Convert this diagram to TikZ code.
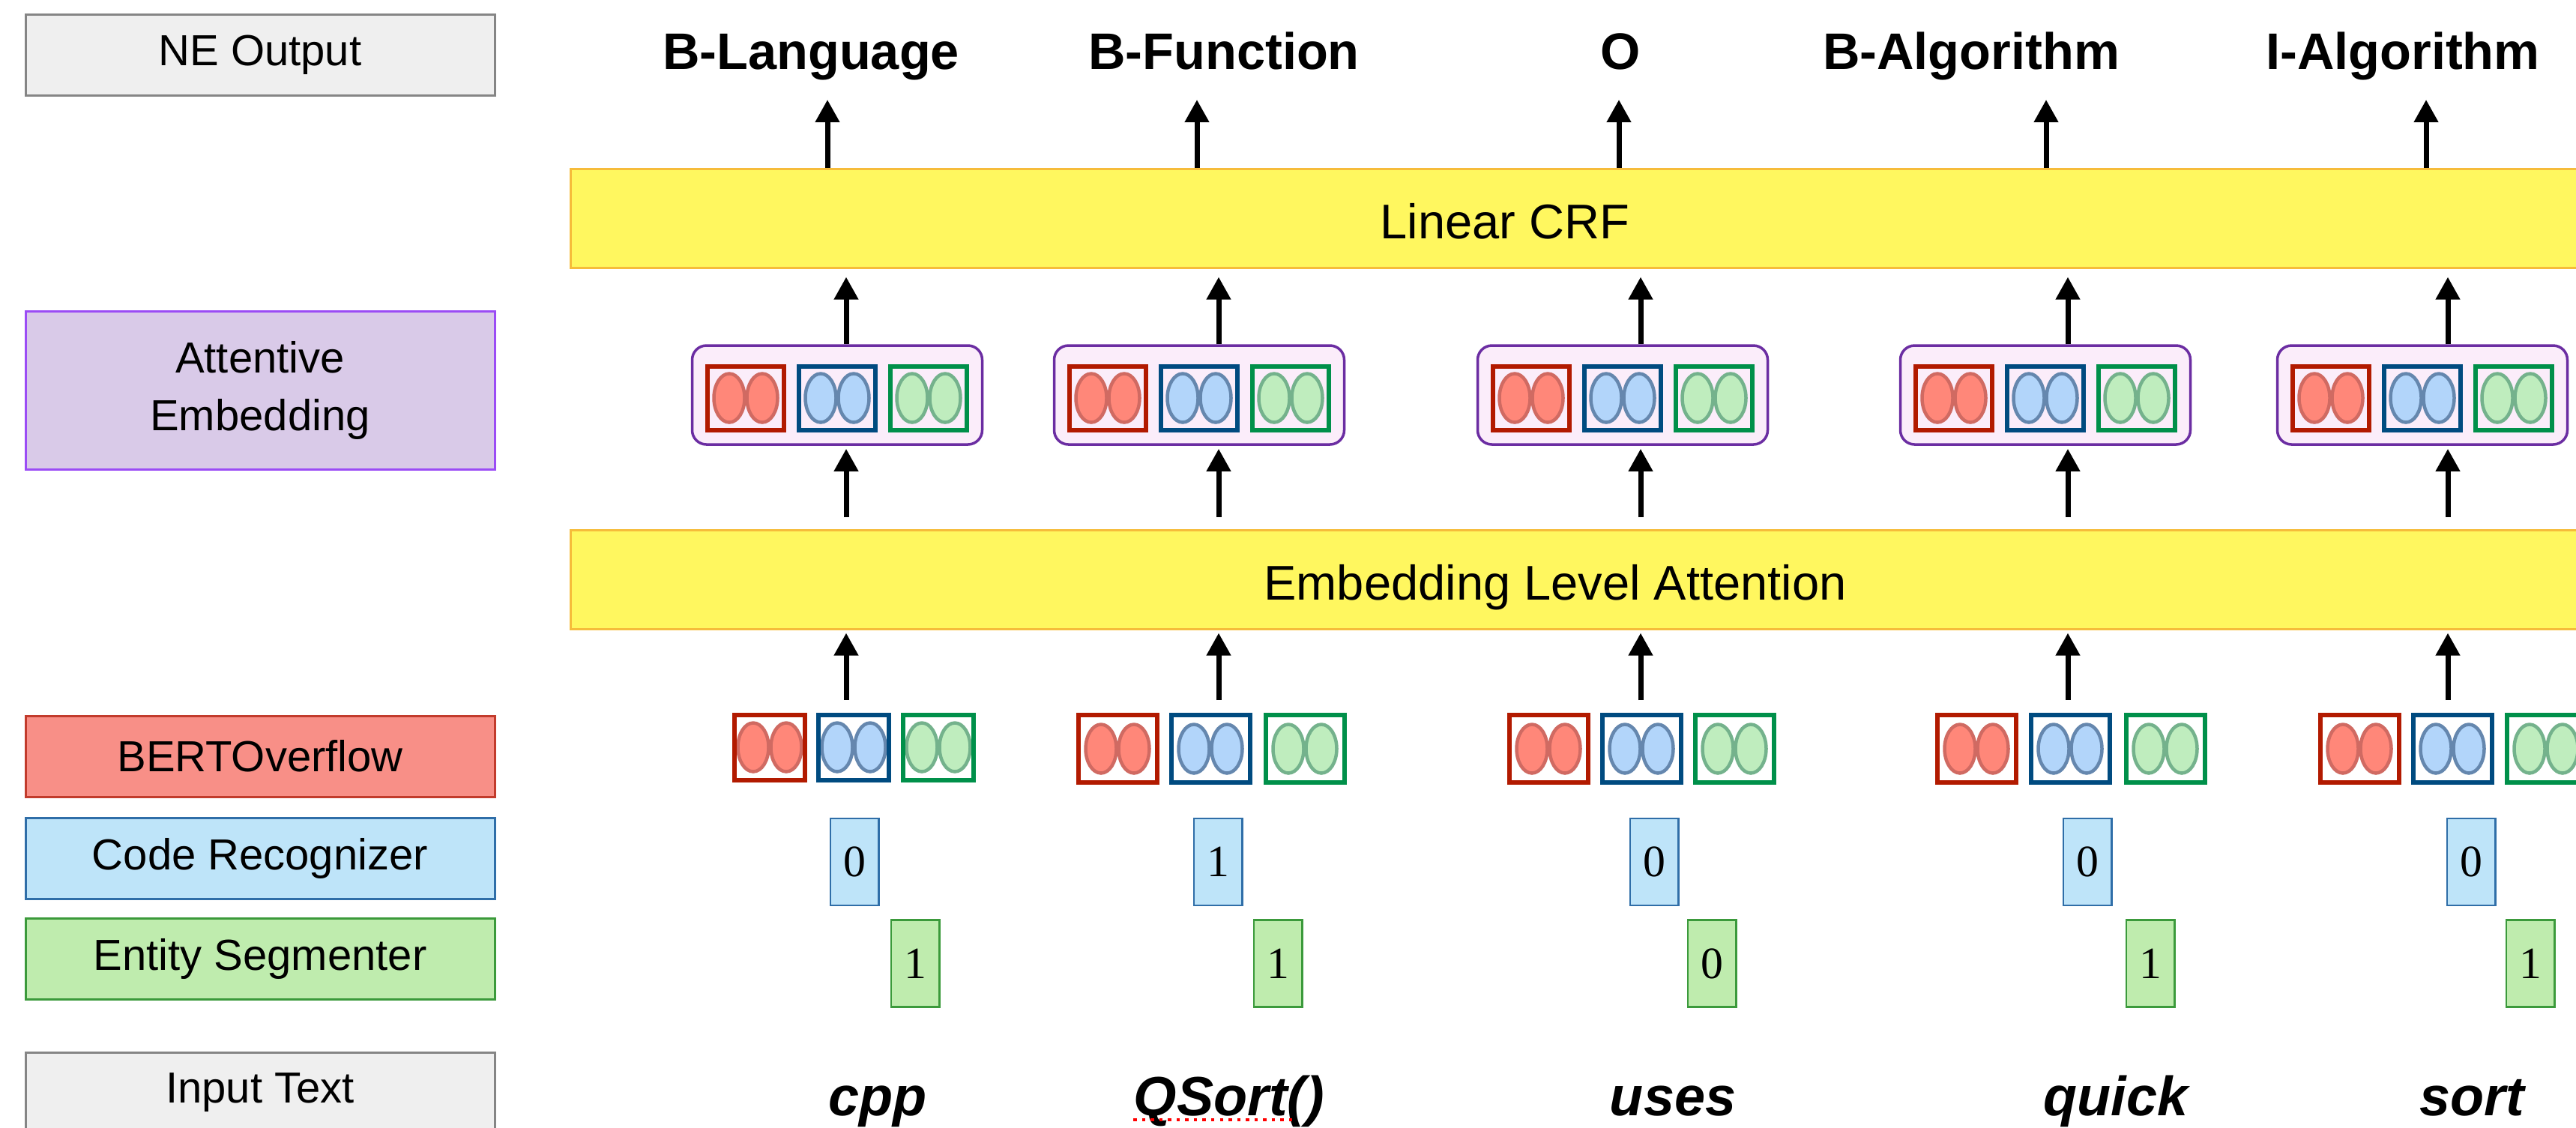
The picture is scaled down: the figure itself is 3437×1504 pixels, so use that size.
\documentclass[tikz,border=0pt]{standalone}
\usepackage{fontspec}
\setmainfont{Liberation Sans}
\newfontfamily\digitfont{Liberation Serif}
\usetikzlibrary{positioning,
        arrows.meta}
\usepackage{xcolor}

\definecolor{grayfill}{HTML}{EFEFEF}
\definecolor{grayline}{HTML}{858585}
\definecolor{attfill}{HTML}{D9CAE8}
\definecolor{attline}{HTML}{9B4CF5}
\definecolor{bertfill}{HTML}{F88F87}
\definecolor{bertline}{HTML}{C23B2C}
\definecolor{codefill}{HTML}{BEE4F9}
\definecolor{codeline}{HTML}{2F6EA8}
\definecolor{segfill}{HTML}{BFECAE}
\definecolor{segline}{HTML}{3B9A3B}
\definecolor{barfill}{HTML}{FFF75F}
\definecolor{barline}{HTML}{F6BC3A}
\definecolor{boxfill}{HTML}{FBEDFA}
\definecolor{boxline}{HTML}{6B2DA2}
\definecolor{cellred}{HTML}{B21A00}
\definecolor{cellblue}{HTML}{004B80}
\definecolor{cellgreen}{HTML}{00904A}
\definecolor{eggred}{HTML}{FF8779}
\definecolor{eggredline}{HTML}{D06A62}
\definecolor{eggblue}{HTML}{B2D5FA}
\definecolor{eggblueline}{HTML}{6587AE}
\definecolor{egggreen}{HTML}{BFEDBE}
\definecolor{egggreenline}{HTML}{74B28C}

\tikzset{
    sidelabel/.style={draw=#1, line width=0.3mm, minimum width=62.6mm, minimum height=10.8mm,
        font=\fontsize{16.5}{22}\selectfont},
    bar/.style={draw=barline, fill=barfill, line width=0.25mm, minimum width=280mm, minimum height=13.2mm},
    bartext/.style={anchor=base, inner sep=0pt, font=\fontsize{18.5}{18.5}\selectfont},
    tag/.style={anchor=base, inner sep=0pt, font=\bfseries\fontsize{19.5}{19.5}\selectfont},
    word/.style={anchor=base, inner sep=0pt, font=\bfseries\itshape\fontsize{21}{21}\selectfont},
    attbox/.style={draw=boxline, fill=boxfill, line width=0.35mm, rounded corners=1.9mm,
        minimum width=38.7mm, minimum height=13.2mm},
    cell/.style n args={3}{draw=#1, line width=0.6mm, minimum width=10.2mm, minimum height=8.5mm, inner sep=0pt,
        path picture={
            \draw[draw=#3, fill=#2, line width=0.45mm] ([xshift=-2.2mm]path picture bounding box.center) ellipse (2.05mm and 3.25mm);
            \draw[draw=#3, fill=#2, line width=0.45mm] ([xshift=2.2mm]path picture bounding box.center) ellipse (2.05mm and 3.25mm);}},
    redcell/.style={cell={cellred}{eggred}{eggredline}},
    bluecell/.style={cell={cellblue}{eggblue}{eggblueline}},
    greencell/.style={cell={cellgreen}{egggreen}{egggreenline}},
    bigcell/.style={minimum width=10.5mm, minimum height=9mm},
    smallcell/.style={minimum width=9.4mm, minimum height=8.7mm},
    codebit/.style={draw=codeline, fill=codefill, line width=0.25mm, minimum width=6.45mm, minimum height=11.6mm,
        inner sep=0pt, font=\digitfont\fontsize{17}{17}\selectfont},
    segbit/.style={codebit, draw=segline, fill=segfill},
    arr/.style={-{Triangle[length=3mm,width=3.1mm]}, line width=0.7mm}
}

\begin{document}
\begin{tikzpicture}[x=0.1mm, y=-0.1mm]
    \path[use as bounding box, clip] (0,0) rectangle (3437,1504);

    % row names on the left
    \node [sidelabel=grayline, fill=grayfill] (neout) at (347,73) {NE Output};
    \node [sidelabel=attline, fill=attfill, minimum height=21.1mm, align=center] (attemb) at (347,521) {Attentive\\Embedding};
    \node [sidelabel=bertline, fill=bertfill] (bert) at (347,1009) {BERTOverflow};
    \node [sidelabel=codeline, fill=codefill] (coderec) at (347,1145) {Code Recognizer};
    \node [sidelabel=segline, fill=segfill] (entseg) at (347,1279) {Entity Segmenter};
    \node [sidelabel=grayline, fill=grayfill] (intext) at (347,1458) {Input Text};

    % yellow layers
    \node [bar, anchor=north west] (crf) at (760,224) {};
    \node [bartext] (crflabel) at (2008,318) {Linear CRF};
    \node [bar, anchor=north west] (ela) at (760,706) {};
    \node [bartext] (elalabel) at (2075,800) {Embedding Level Attention};

    % output tags
    \node [tag] (t1) at (1082,92) {B-Language};
    \node [tag] (t2) at (1633,92) {B-Function};
    \node [tag] (t3) at (2162,92) {O};
    \node [tag] (t4) at (2630,92) {B-Algorithm};
    \node [tag] (t5) at (3206,92) {I-Algorithm};

    % attentive embeddings
    \node [attbox] (att1) at (1117,527) {};
    \node [bluecell] (a1b) at ([yshift=-0.4mm]att1.center) {};
    \node [redcell, left=1.4mm of a1b] (a1r) {};
    \node [greencell, right=1.4mm of a1b] (a1g) {};

    \node [attbox] (att2) at (1600,527) {};
    \node [bluecell] (a2b) at ([yshift=-0.4mm]att2.center) {};
    \node [redcell, left=1.4mm of a2b] (a2r) {};
    \node [greencell, right=1.4mm of a2b] (a2g) {};

    \node [attbox] (att3) at (2165,527) {};
    \node [bluecell] (a3b) at ([yshift=-0.4mm]att3.center) {};
    \node [redcell, left=1.4mm of a3b] (a3r) {};
    \node [greencell, right=1.4mm of a3b] (a3g) {};

    \node [attbox] (att4) at (2729,527) {};
    \node [bluecell] (a4b) at ([yshift=-0.4mm]att4.center) {};
    \node [redcell, left=1.4mm of a4b] (a4r) {};
    \node [greencell, right=1.4mm of a4b] (a4g) {};

    \node [attbox] (att5) at (3232,527) {};
    \node [bluecell] (a5b) at ([yshift=-0.4mm]att5.center) {};
    \node [redcell, left=1.4mm of a5b] (a5r) {};
    \node [greencell, right=1.4mm of a5b] (a5g) {};

    % token embeddings
    \node [bluecell, smallcell] (e1b) at (1139,997) {};
    \node [redcell, smallcell, left=1.2mm of e1b] (e1r) {};
    \node [greencell, smallcell, right=1.3mm of e1b] (e1g) {};

    \node [bluecell, bigcell] (e2b) at (1615,999) {};
    \node [redcell, bigcell, left=1.3mm of e2b] (e2r) {};
    \node [greencell, bigcell, right=1.5mm of e2b] (e2g) {};

    \node [bluecell, bigcell] (e3b) at (2190,999) {};
    \node [redcell, bigcell, left=1.3mm of e3b] (e3r) {};
    \node [greencell, bigcell, right=1.3mm of e3b] (e3g) {};

    \node [bluecell, bigcell] (e4b) at (2762,999) {};
    \node [redcell, bigcell, left=1.4mm of e4b] (e4r) {};
    \node [greencell, bigcell, right=1.6mm of e4b] (e4g) {};

    \node [bluecell, bigcell] (e5b) at (3272,999) {};
    \node [redcell, bigcell, left=1.3mm of e5b] (e5r) {};
    \node [greencell, bigcell, right=1.4mm of e5b] (e5g) {};

    % code and segment bits
    \node [codebit] (c1) at (1140,1150) {0};
    \node [segbit, below right=1.7mm and 1.4mm of c1] (s1) {1};
    \node [codebit] (c2) at (1625,1150) {1};
    \node [segbit, below right=1.7mm and 1.3mm of c2] (s2) {1};
    \node [codebit] (c3) at (2207,1150) {0};
    \node [segbit, below right=1.7mm and 1.0mm of c3] (s3) {0};
    \node [codebit] (c4) at (2785,1150) {0};
    \node [segbit, below right=1.7mm and 1.7mm of c4] (s4) {1};
    \node [codebit] (c5) at (3297,1150) {0};
    \node [segbit, below right=1.7mm and 1.2mm of c5] (s5) {1};

    % input words
    \node [word] (w1) at (1171,1488) {cpp};
    \node [word] (w2) at (1640,1488) {QSort()};
    \node [word] (w3) at (2232,1488) {uses};
    \node [word] (w4) at (2823,1488) {quick};
    \node [word] (w5) at (3298,1488) {sort};
    \draw [red, dotted, line width=0.45mm] ([yshift=-0.6mm]w2.base west) -- ++(21.3mm,0);

    % arrow columns
    \coordinate (p1) at (1129,0);
    \coordinate (p2) at (1626,0);
    \coordinate (p3) at (2189,0);
    \coordinate (p4) at (2759,0);
    \coordinate (p5) at (3266,0);
    \coordinate (q1) at (1104,133);
    \coordinate (q2) at (1597,133);
    \coordinate (q3) at (2160,133);
    \coordinate (q4) at (2730,133);
    \coordinate (q5) at (3237,133);

    \draw [arr, shorten <=1.7mm, shorten >=0.4mm] (e1b.north -| p1) -- (ela.south -| p1);
    \draw [arr, shorten <=1.7mm, shorten >=0.4mm] (e2b.north -| p2) -- (ela.south -| p2);
    \draw [arr, shorten <=1.7mm, shorten >=0.4mm] (e3b.north -| p3) -- (ela.south -| p3);
    \draw [arr, shorten <=1.7mm, shorten >=0.4mm] (e4b.north -| p4) -- (ela.south -| p4);
    \draw [arr, shorten <=1.7mm, shorten >=0.4mm] (e5b.north -| p5) -- (ela.south -| p5);

    \draw [arr, shorten <=1.6mm, shorten >=0.4mm] (ela.north -| p1) -- (att1.south -| p1);
    \draw [arr, shorten <=1.6mm, shorten >=0.4mm] (ela.north -| p2) -- (att2.south -| p2);
    \draw [arr, shorten <=1.6mm, shorten >=0.4mm] (ela.north -| p3) -- (att3.south -| p3);
    \draw [arr, shorten <=1.6mm, shorten >=0.4mm] (ela.north -| p4) -- (att4.south -| p4);
    \draw [arr, shorten <=1.6mm, shorten >=0.4mm] (ela.north -| p5) -- (att5.south -| p5);

    \draw [arr, shorten >=1.1mm] (att1.north -| p1) -- (crf.south -| p1);
    \draw [arr, shorten >=1.1mm] (att2.north -| p2) -- (crf.south -| p2);
    \draw [arr, shorten >=1.1mm] (att3.north -| p3) -- (crf.south -| p3);
    \draw [arr, shorten >=1.1mm] (att4.north -| p4) -- (crf.south -| p4);
    \draw [arr, shorten >=1.1mm] (att5.north -| p5) -- (crf.south -| p5);

    \draw [arr] (crf.north -| q1) -- (q1);
    \draw [arr] (crf.north -| q2) -- (q2);
    \draw [arr] (crf.north -| q3) -- (q3);
    \draw [arr] (crf.north -| q4) -- (q4);
    \draw [arr] (crf.north -| q5) -- (q5);
\end{tikzpicture}
\end{document}
